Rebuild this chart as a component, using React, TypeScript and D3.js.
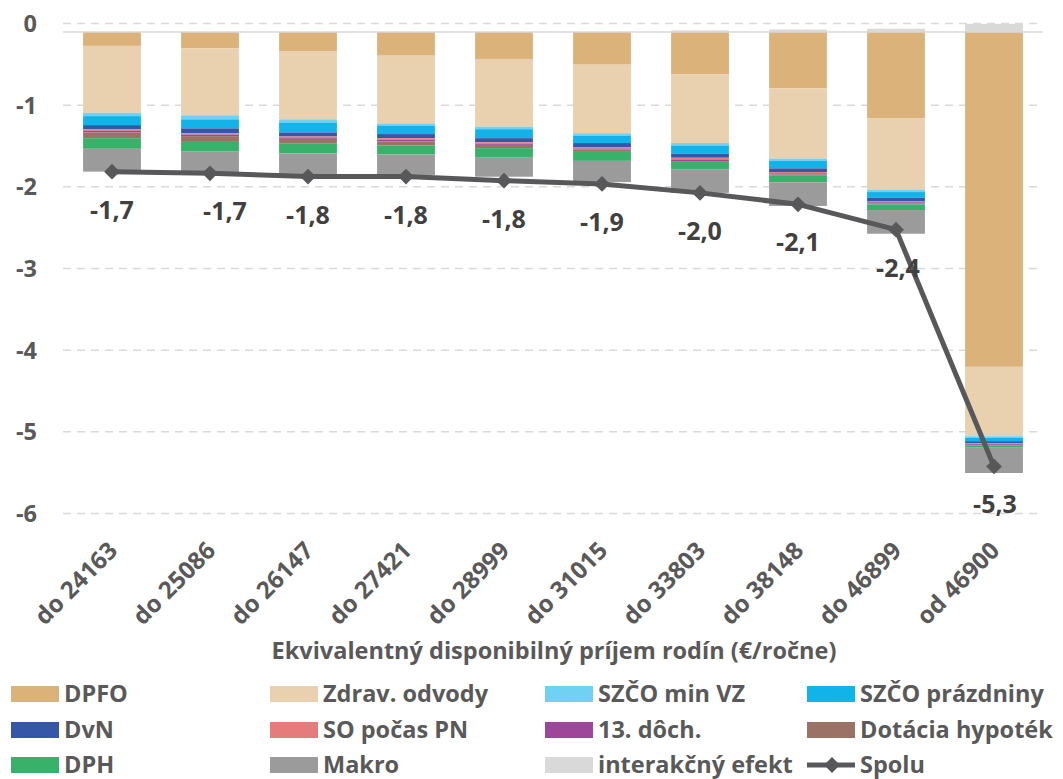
import React from "react";
import * as d3 from "d3";

// income groups
const categories = [
  "do 24163", "do 25086", "do 26147", "do 27421", "do 28999",
  "do 31015", "do 33803", "do 38148", "do 46899", "od 46900",
];

// components (negative = loss)
const dpfo = [-0.17, -0.2, -0.24, -0.29, -0.33, -0.4, -0.52, -0.69, -1.06, -4.1];
const zdrav = [-0.82, -0.82, -0.83, -0.83, -0.83, -0.84, -0.84, -0.86, -0.87, -0.85];
const szcoMinVz = [-0.04, -0.05, -0.04, -0.03, -0.03, -0.03, -0.03, -0.03, -0.03, -0.02];
const szcoPrazdniny = [-0.11, -0.11, -0.12, -0.1, -0.11, -0.09, -0.1, -0.09, -0.07, -0.04];
const dvn = [-0.05, -0.06, -0.05, -0.05, -0.05, -0.05, -0.05, -0.045, -0.04, -0.025];
const soPn = [-0.02, -0.015, -0.012, -0.02, -0.016, -0.016, -0.02, -0.015, -0.015, -0.01];
const dochodok13 = [-0.02, -0.02, -0.016, -0.02, -0.016, -0.012, -0.02, -0.015, -0.015, -0.01];
const hypoteky = [-0.07, -0.06, -0.06, -0.05, -0.04, -0.03, -0.01, -0.015, -0.01, -0.005];
const dph = [-0.13, -0.13, -0.12, -0.11, -0.11, -0.11, -0.09, -0.08, -0.07, -0.03];
const makro = [-0.28, -0.26, -0.27, -0.25, -0.24, -0.26, -0.29, -0.29, -0.29, -0.31];
const interakcia = [0, 0, 0, 0, 0, 0, 0.02, 0.03, 0.04, 0.1];

// total line
const spolu = [-1.71, -1.73, -1.77, -1.77, -1.82, -1.86, -1.97, -2.11, -2.42, -5.32];
const spoluLabels = ["-1,7", "-1,7", "-1,8", "-1,8", "-1,8", "-1,9", "-2,0", "-2,1", "-2,4", "-5,3"];
// manual nudges of the labels (px)
const labelDx = [0, 15, 0, 0, 0, 0, 0, 0, 2, 1];

const yTicks = [0, -1, -2, -3, -4, -5, -6];

const seriesList = [
  { key: "DPFO", values: dpfo, color: "#DBB27A" },
  { key: "Zdrav. odvody", values: zdrav, color: "#E9D1AF" },
  { key: "SZČO min VZ", values: szcoMinVz, color: "#70D1F2" },
  { key: "SZČO prázdniny", values: szcoPrazdniny, color: "#12B3E8" },
  { key: "DvN", values: dvn, color: "#3657A8" },
  { key: "SO počas PN", values: soPn, color: "#E67B7B" },
  { key: "13. dôch.", values: dochodok13, color: "#9D469A" },
  { key: "Dotácia hypoték", values: hypoteky, color: "#9A7366" },
  { key: "DPH", values: dph, color: "#38B26A" },
  { key: "Makro", values: makro, color: "#9B9B9C" },
  { key: "interakčný efekt", values: interakcia, color: "#D9D9D9" },
];

// legend order (4 columns)
const legendOrder = [
  "DPFO", "Zdrav. odvody", "SZČO min VZ", "SZČO prázdniny",
  "DvN", "SO počas PN", "13. dôch.", "Dotácia hypoték",
  "DPH", "Makro", "interakčný efekt", "Spolu",
];

const W = 1063;
const H = 779;
const FONT = "'Open Sans', sans-serif";
const TEXT = "#595959";
const LINE = "#58585A";

export default function App() {
  const x = d3.scaleBand<string>()
    .domain(categories)
    .range([63, 1043])
    .paddingInner(0.41)
    .paddingOuter(0.205);

  // grid / labels and data sit 0.1 apart (two axes in the original)
  const yGrid = d3.scaleLinear().domain([0, -6]).range([23.5, 513.5]);
  const y = d3.scaleLinear().domain([0, -6]).range([32, 522]);

  const rows = categories.map((c, i) => {
    const r: any = { cat: c };
    seriesList.forEach((s) => (r[s.key] = s.values[i]));
    return r;
  });
  const stacked = d3.stack<any>()
    .keys(seriesList.map((s) => s.key))
    .offset(d3.stackOffsetDiverging)(rows);

  const line = d3.line<number>()
    .x((_, i) => x(categories[i])! + x.bandwidth() / 2)
    .y((d) => y(d));

  const diamond = d3.symbol().type(d3.symbolSquare).size(125)()!;

  const colX = [11, 270, 545, 807];
  const rowY = [694, 730, 765];

  return (
    <div style={{ position: "absolute", left: 0, top: 0 }}>
      <svg width={W} height={H} style={{ display: "block", background: "#fff" }}>
        {/* gridlines */}
        {yTicks.map((t) => (
          <line key={t} x1={63} x2={1043} y1={yGrid(t)} y2={yGrid(t)}
            stroke="#D9D9D9" strokeWidth={1.5} strokeDasharray="8,6" />
        ))}
        {yTicks.map((t) => (
          <text key={"l" + t} x={37} y={yGrid(t)} dy="0.36em" textAnchor="end"
            fontFamily={FONT} fontWeight={700} fontSize={23.5} fill={TEXT}>
            {t}
          </text>
        ))}

        {/* bars */}
        {stacked.map((layer, li) => (
          <g key={layer.key} fill={seriesList[li].color}>
            {layer.map((d, i) => {
              const y0 = y(d[0]);
              const y1 = y(d[1]);
              const top = Math.min(y0, y1);
              const h = Math.abs(y1 - y0);
              if (h <= 0) return null;
              return (
                <rect key={i} x={x(categories[i])} y={top}
                  width={x.bandwidth()} height={h} />
              );
            })}
          </g>
        ))}

        {/* category axis line */}
        <line x1={63} x2={1043} y1={y(0)} y2={y(0)} stroke="#D9D9D9" strokeWidth={1.5} />

        {/* total */}
        <path d={line(spolu)!} fill="none" stroke={LINE} strokeWidth={5} strokeLinejoin="round" />
        {spolu.map((v, i) => (
          <path key={i} d={diamond} fill={LINE}
            transform={`translate(${x(categories[i])! + x.bandwidth() / 2},${y(v)}) rotate(45)`} />
        ))}
        {spolu.map((v, i) => (
          <text key={"v" + i} x={x(categories[i])! + x.bandwidth() / 2 + labelDx[i]} y={y(v) + 38}
            dy="0.36em" textAnchor="middle" fontFamily={FONT} fontWeight={700}
            fontSize={25} fill="#404040">
            {spoluLabels[i]}
          </text>
        ))}

        {/* category labels */}
        {categories.map((c) => {
          const cx = x(c)! + x.bandwidth() / 2 + 7;
          return (
            <text key={c} transform={`translate(${cx},552) rotate(-45)`} textAnchor="end"
              fontFamily={FONT} fontWeight={700} fontSize={24} fill={TEXT}>
              {c}
            </text>
          );
        })}

        <text x={554} y={659} textAnchor="middle" fontFamily={FONT} fontWeight={700}
          fontSize={23.5} fill={TEXT}>
          Ekvivalentný disponibilný príjem rodín (€/ročne)
        </text>

        {/* legend */}
        {legendOrder.map((k, i) => {
          const lx = colX[i % 4];
          const ly = rowY[Math.floor(i / 4)];
          const s = seriesList.find((d) => d.key === k);
          return (
            <g key={k} transform={`translate(${lx},${ly})`}>
              {s ? (
                <rect x={0} y={-8} width={48} height={16} fill={s.color} />
              ) : (
                <g>
                  <line x1={0} x2={48} y1={0} y2={0} stroke={LINE} strokeWidth={5} />
                  <path d={diamond} fill={LINE} transform="translate(25,0) rotate(45)" />
                </g>
              )}
              <text x={53} y={0} dy="0.36em" fontFamily={FONT} fontWeight={700}
                fontSize={23.5} fill={TEXT}>
                {k}
              </text>
            </g>
          );
        })}
      </svg>
    </div>
  );
}
